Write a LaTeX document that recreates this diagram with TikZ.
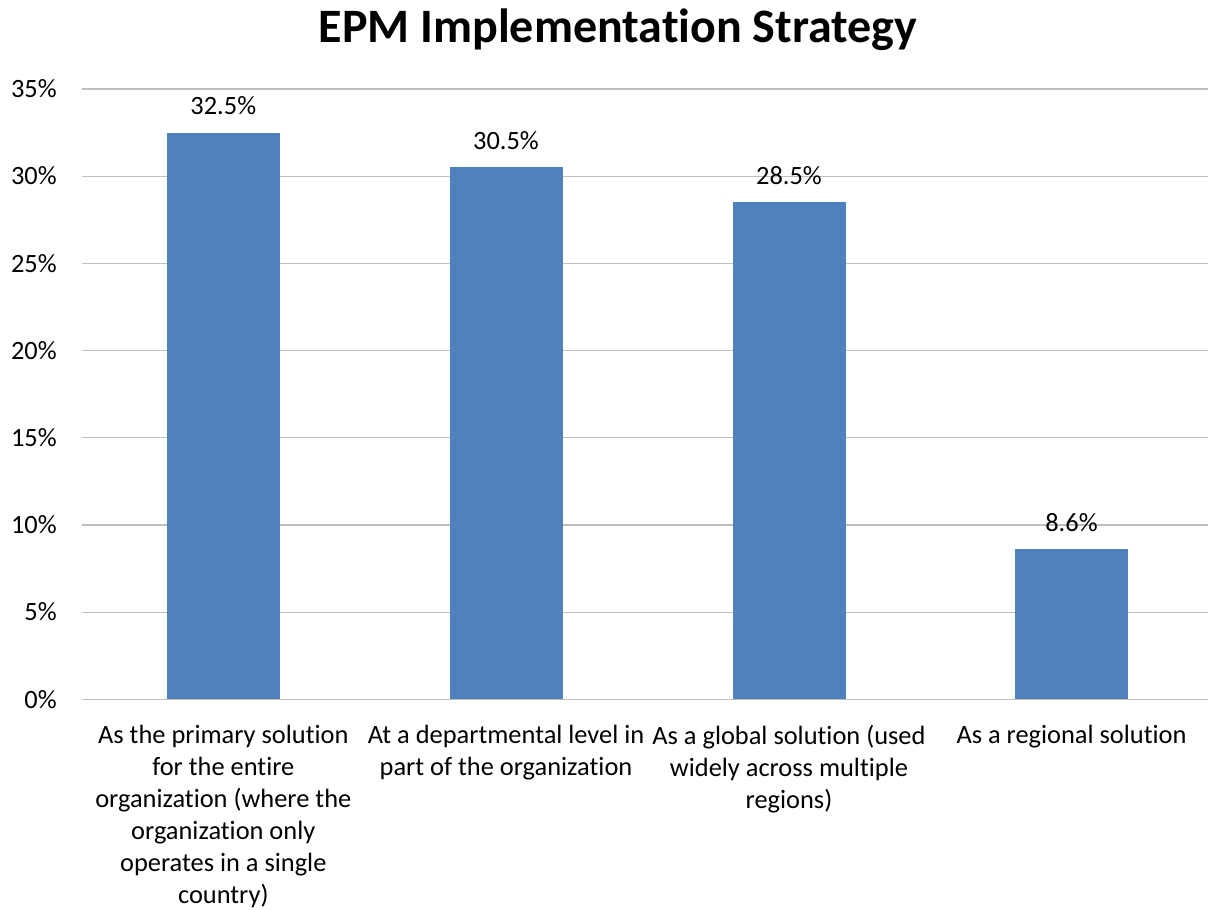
\documentclass[tikz,border=0pt]{standalone}
\usepackage{fontspec}
\setmainfont{Carlito}[Ligatures={NoCommon}]
\definecolor{barblue}{HTML}{4F81BD}
\definecolor{gridgray}{HTML}{BFBFBF}
\begin{document}
\begin{tikzpicture}[x=0.75pt,y=-0.75pt,
  bar/.style={fill=barblue,draw=none},
  grid line/.style={draw=gridgray,line width=0.9pt},
  ticklabel/.style={anchor=east,inner sep=0pt,font=\fontsize{19.8}{24}\selectfont},
  vallabel/.style={anchor=base,inner sep=0pt,font=\fontsize{19.8}{24}\selectfont},
  catlabel/.style={anchor=north,align=center,inner sep=0pt,font=\fontsize{19.8}{24}\selectfont}]
  \useasboundingbox (0,0) rectangle (1208,910);
  \node[font=\bfseries\fontsize{36}{42}\selectfont] (title) at (618,30) {EPM Implementation Strategy};
  % grid and axis labels
  \foreach \v in {5,10,...,35}{
    \draw[grid line] (82,699.3-17.44*\v) -- (1208,699.3-17.44*\v);
  }
  \foreach \v in {0,5,...,35}{
    \node[ticklabel] (t\v) at (57,699.3-17.44*\v) {\v\%};
  }
  % bars
  \foreach \i/\x/\p in {1/223.3/32.5,2/506/30.5,3/789/28.5,4/1071.5/8.6}{
    \fill[bar] (\x-56.5,699.3) rectangle (\x+56.5,699.3-17.44*\p);
    \node[vallabel] (v\i) at (\x,699.3-17.44*\p-18) {\p\%};
  }
  \draw[grid line] (82,699.3) -- (1208,699.3);
  % categories
  \node[catlabel] (c1) at (223.3,725) {As the primary solution\\for the entire\\organization (where the\\organization only\\operates in a single\\country)};
  \node[catlabel] (c2) at (506,725) {At a departmental level in\\part of the organization};
  \node[catlabel] (c3) at (789,725) {As a global solution (used\\widely across multiple\\regions)};
  \node[catlabel] (c4) at (1071.5,725) {As a regional solution};
\end{tikzpicture}
\end{document}
